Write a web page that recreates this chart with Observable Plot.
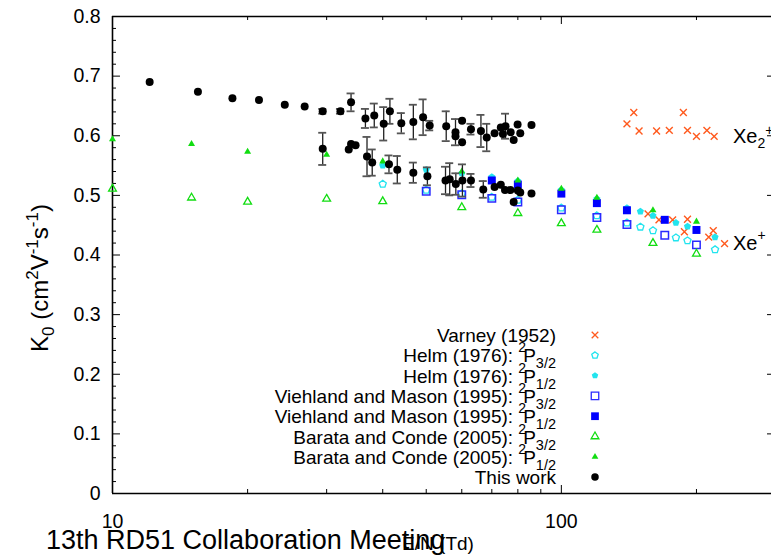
<!DOCTYPE html>
<html><head><meta charset="utf-8">
<script src="https://cdn.jsdelivr.net/npm/d3@7"></script>
<script src="https://cdn.jsdelivr.net/npm/@observablehq/plot@0.6"></script>
<style>
body{margin:0;background:#fff}
#chart{width:771px;height:555px;overflow:hidden}
</style>
</head><body><div id="chart"></div>
<script>
// ---------------- DATA ----------------
// This work: E/N (Td), K0, error (0 = no bar)
const thisWorkEN  = [12.1,15.5,18.5,21.2,24.2,26.8,29.4,32.2,34.0,36.6,38.3,40.2,41.5,44.0,46.8,49.2,50.9,55.4,58.1,58.1,60.1,60.1,62.9,66.2,68.2,71.0,73.3,74.1,75.1,77.1,78.3,79.9,81.0,85.8,
                     29.4,33.6,34.0,34.8,36.9,37.9,41.3,43.1,46.8,50.3,55.2,56.4,58.2,60.2,62.9,67.0,71.0,73.3,74.9,77.0,78.3,80.0,81.0,85.8];
const thisWorkK   = [0.690,0.674,0.663,0.660,0.652,0.649,0.641,0.641,0.656,0.629,0.634,0.620,0.641,0.621,0.623,0.631,0.617,0.616,0.606,0.599,0.625,0.589,0.611,0.608,0.597,0.604,0.614,0.603,0.616,0.606,0.593,0.619,0.604,0.618,
                     0.578,0.577,0.586,0.584,0.565,0.555,0.552,0.543,0.538,0.532,0.525,0.527,0.519,0.525,0.525,0.510,0.514,0.518,0.509,0.509,0.489,0.508,0.505,0.503];
const thisWorkErr = [0,0,0,0,0,0,0.004,0.004,0.015,0.016,0.020,0.028,0.021,0.017,0.029,0.030,0.008,0.025,0.022,0,0,0,0.009,0.027,0.023,0,0,0,0.021,0,0,0,0,0,
                     0.027,0,0,0,0.033,0.022,0.015,0.023,0.017,0.015,0.023,0.027,0.018,0.027,0.011,0.014,0,0,0,0,0,0,0,0];

const varneyEN = [140,145,149,163,174,187,191,200,211,219, 156,165,177,188,191,213,218,231];
const varneyK  = [0.620,0.639,0.608,0.608,0.609,0.639,0.609,0.599,0.609,0.599, 0.469,0.459,0.459,0.439,0.460,0.430,0.441,0.419];

const helm32EN = [40,50,60,70,80,100,120,140,150,160,180,191,220];
const helm32K  = [0.519,0.509,0.503,0.497,0.492,0.479,0.466,0.454,0.447,0.441,0.429,0.424,0.409];
const helm12EN = [40,50,60,70,80,100,120,140,150,160,180,191,220];
const helm12K  = [0.550,0.543,0.537,0.531,0.524,0.509,0.494,0.479,0.473,0.466,0.454,0.448,0.430];

const vm32EN = [50,60,70,80,100,120,140,170,200];
const vm32K  = [0.507,0.501,0.495,0.489,0.476,0.463,0.451,0.433,0.417];
const vm12EN = [70,80,100,120,140,170,200];
const vm12K  = [0.525,0.518,0.503,0.487,0.475,0.459,0.442];

const bc32EN = [10,15,20,30,40,60,80,100,120,160,200];
const bc32K  = [0.511,0.496,0.489,0.494,0.490,0.480,0.470,0.453,0.442,0.420,0.402];
const bc12EN = [10,15,20,30,40,60,80,100,120,160,200];
const bc12K  = [0.594,0.586,0.573,0.568,0.557,0.540,0.525,0.511,0.496,0.475,0.456];

const yTicks = [0,0.1,0.2,0.3,0.4,0.5,0.6,0.7,0.8];
const yTickLabels = ["0","0.1","0.2","0.3","0.4","0.5","0.6","0.7","0.8"];
const xTicks = [10,100];
const xTickLabels = ["10","100"];
const xMinor = [20,30,40,50,60,70,80,90,200];

const legendNames  = ["Varney (1952)","Helm (1976): ","Helm (1976): ","Viehland and Mason (1995): ","Viehland and Mason (1995): ","Barata and Conde (2005): ","Barata and Conde (2005): ","This work"];
const legendStates = ["","3/2","1/2","3/2","1/2","3/2","1/2",""];

// ---------------- CHART ----------------
const ff = "'Liberation Sans', Arial, Helvetica, sans-serif";
const pentagon = {
  draw(ctx, size) {
    const R = Math.sqrt(size / Math.PI) * 1.1;
    for (let i = 0; i < 5; i++) {
      const a = -Math.PI / 2 + i * 2 * Math.PI / 5;
      const px = R * Math.cos(a), py = R * Math.sin(a);
      if (i === 0) ctx.moveTo(px, py); else ctx.lineTo(px, py);
    }
    ctx.closePath();
  }
};

const zip = (xs, ys) => xs.map((x, i) => ({x, y: ys[i]}));
const tw = thisWorkEN.map((x, i) => ({x, y: thisWorkK[i], e: thisWorkErr[i]}));
const twErr = tw.filter(d => d.e > 0);
const caps = twErr.flatMap(d => [{x: d.x, y: d.y - d.e}, {x: d.x, y: d.y + d.e}]);

const X0 = 10, X1 = 300, Y0 = 0, Y1 = 0.8;
const fx = px => Math.pow(10, px / 449);   // log factor for px
const fy = px => px * 0.8 / 477;           // linear units for px
const yMinor = d3.range(0, 41).map(i => i * 0.02).filter((v, i) => i % 5 !== 0);

const cyan = "#22e4ee", blue = "#0000ff", green = "#11dd11", red = "#ff5a1e";

const svg = Plot.plot({
  width: 771, height: 555,
  marginLeft: 112, marginRight: 0, marginTop: 16, marginBottom: 62,
  style: {fontFamily: ff, background: "white", color: "#000", overflow: "hidden"},
  x: {type: "log", domain: [X0, X1], range: [112, 775], axis: null},
  y: {domain: [Y0, Y1], range: [493, 16], axis: null},
  marks: [
    // frame
    Plot.ruleY([Y0, Y1], {x1: X0, x2: X1, stroke: "#000", strokeWidth: 1.6}),
    Plot.ruleX([X0, X1], {y1: Y0, y2: Y1, stroke: "#000", strokeWidth: 1.6}),
    // y ticks (left and right, inward)
    Plot.ruleY(yTicks, {x1: X0, x2: X0 * fx(8), stroke: "#000"}),
    Plot.ruleY(yTicks, {x1: X1 / fx(8), x2: X1, stroke: "#000"}),
    Plot.ruleY(yMinor, {x1: X0, x2: X0 * fx(4), stroke: "#000"}),
    Plot.ruleY(yMinor, {x1: X1 / fx(4), x2: X1, stroke: "#000"}),
    // x ticks (bottom and top, inward)
    Plot.ruleX(xTicks, {y1: Y0, y2: Y0 + fy(8), stroke: "#000"}),
    Plot.ruleX(xTicks, {y1: Y1 - fy(8), y2: Y1, stroke: "#000"}),
    Plot.ruleX(xMinor, {y1: Y0, y2: Y0 + fy(4), stroke: "#000"}),
    Plot.ruleX(xMinor, {y1: Y1 - fy(4), y2: Y1, stroke: "#000"}),
    // tick labels
    Plot.text(yTicks, {x: X0, y: d => d, text: (d, i) => yTickLabels[i], textAnchor: "end", dx: -12, fontSize: 19.5, fill: "#000"}),
    Plot.text(xTicks, {x: d => d, y: Y0, text: (d, i) => xTickLabels[i], dy: 28, fontSize: 19.5, fill: "#000"}),
    // data
    Plot.dot(zip(varneyEN, varneyK), {x: "x", y: "y", symbol: "times", r: 3.2, stroke: red, strokeWidth: 1.4}),
    Plot.dot(zip(helm32EN, helm32K), {x: "x", y: "y", symbol: pentagon, r: 3.4, stroke: cyan, fill: "none", strokeWidth: 1.3}),
    Plot.dot(zip(helm12EN, helm12K), {x: "x", y: "y", symbol: pentagon, r: 3.4, fill: cyan, stroke: "none"}),
    Plot.dot(zip(vm32EN, vm32K), {x: "x", y: "y", symbol: "square", r: 4.2, stroke: "#2a2aff", fill: "none", strokeWidth: 1.5}),
    Plot.dot(zip(vm12EN, vm12K), {x: "x", y: "y", symbol: "square", r: 4.5, fill: blue, stroke: "none"}),
    Plot.dot(zip(bc32EN, bc32K), {x: "x", y: "y", symbol: "triangle", r: 2.9, stroke: green, fill: "none", strokeWidth: 1.3}),
    Plot.dot(zip(bc12EN, bc12K), {x: "x", y: "y", symbol: "triangle", r: 2.6, fill: green, stroke: "none"}),
    Plot.ruleX(twErr, {x: "x", y1: d => d.y - d.e, y2: d => d.y + d.e, stroke: "#222", strokeWidth: 1.3}),
    Plot.ruleY(caps, {y: "y", x1: d => d.x / fx(4), x2: d => d.x * fx(4), stroke: "#555", strokeWidth: 1.8}),
    Plot.dot(tw, {x: "x", y: "y", r: 4, fill: "#000", stroke: "none"})
  ]
});

document.getElementById("chart").appendChild(svg);

// ---------------- TEXT / LEGEND ----------------
const s = d3.select(svg);
const g = s.append("g").attr("font-family", ff).attr("fill", "#000").attr("text-anchor", "start");

// y label
const yl = g.append("text").attr("transform", "translate(48,278) rotate(-90)")
  .attr("text-anchor", "middle").attr("font-size", 24);
yl.append("tspan").text("K");
yl.append("tspan").attr("font-size", 17).attr("dy", 6).text("0");
yl.append("tspan").attr("dy", -6).text(" (cm");
yl.append("tspan").attr("font-size", 17).attr("dy", -10).text("2");
yl.append("tspan").attr("dy", 10).text("V");
yl.append("tspan").attr("font-size", 17).attr("dy", -10).text("-1");
yl.append("tspan").attr("dy", 10).text("s");
yl.append("tspan").attr("font-size", 17).attr("dy", -10).text("-1");
yl.append("tspan").attr("dy", 10).text(")");

// bottom texts
g.append("text").attr("x", 46).attr("y", 549).attr("font-size", 27).attr("text-anchor", "start").text("13th RD51 Collaboration Meeting");
g.append("text").attr("x", 438).attr("y", 550).attr("font-size", 19).attr("text-anchor", "middle").text("E/N (Td)");

// Xe labels
const xe2 = g.append("text").attr("x", 733).attr("y", 143).attr("font-size", 20).attr("text-anchor", "start");
xe2.append("tspan").text("Xe");
xe2.append("tspan").attr("font-size", 14).attr("dy", 5).text("2");
xe2.append("tspan").attr("font-size", 14).attr("dy", -13).text("+");
const xe1 = g.append("text").attr("x", 733).attr("y", 250).attr("font-size", 20).attr("text-anchor", "start");
xe1.append("tspan").text("Xe");
xe1.append("tspan").attr("font-size", 14).attr("dy", -10).text("+");

// legend
const legendMarkers = [
  {type: d3.symbolTimes, size: 30, fill: "none", stroke: red},
  {type: pentagon, size: 30, fill: "none", stroke: cyan},
  {type: pentagon, size: 30, fill: cyan, stroke: "none"},
  {type: d3.symbolSquare, size: 56, fill: "none", stroke: "#2a2aff"},
  {type: d3.symbolSquare, size: 60, fill: blue, stroke: "none"},
  {type: d3.symbolTriangle, size: 26, fill: "none", stroke: green},
  {type: d3.symbolTriangle, size: 20, fill: green, stroke: "none"},
  {type: d3.symbolCircle, size: 44, fill: "#000", stroke: "none"}
];
legendNames.forEach((name, i) => {
  const cy = 335 + i * 20.3;
  const t = g.append("text").attr("x", 556).attr("y", cy + 7).attr("text-anchor", "end").attr("font-size", 19);
  t.append("tspan").text(name);
  if (legendStates[i]) {
    t.append("tspan").attr("font-size", 14).attr("dy", -10).text("2");
    t.append("tspan").attr("dx", -3).attr("dy", 10).text("P");
    t.append("tspan").attr("font-size", 14.5).attr("dy", 6).text(legendStates[i]);
  }
  const m = legendMarkers[i];
  g.append("path").attr("transform", `translate(595,${cy})`)
    .attr("d", d3.symbol(m.type, m.size)())
    .attr("fill", m.fill).attr("stroke", m.stroke).attr("stroke-width", 1.3);
});
</script></body></html>
